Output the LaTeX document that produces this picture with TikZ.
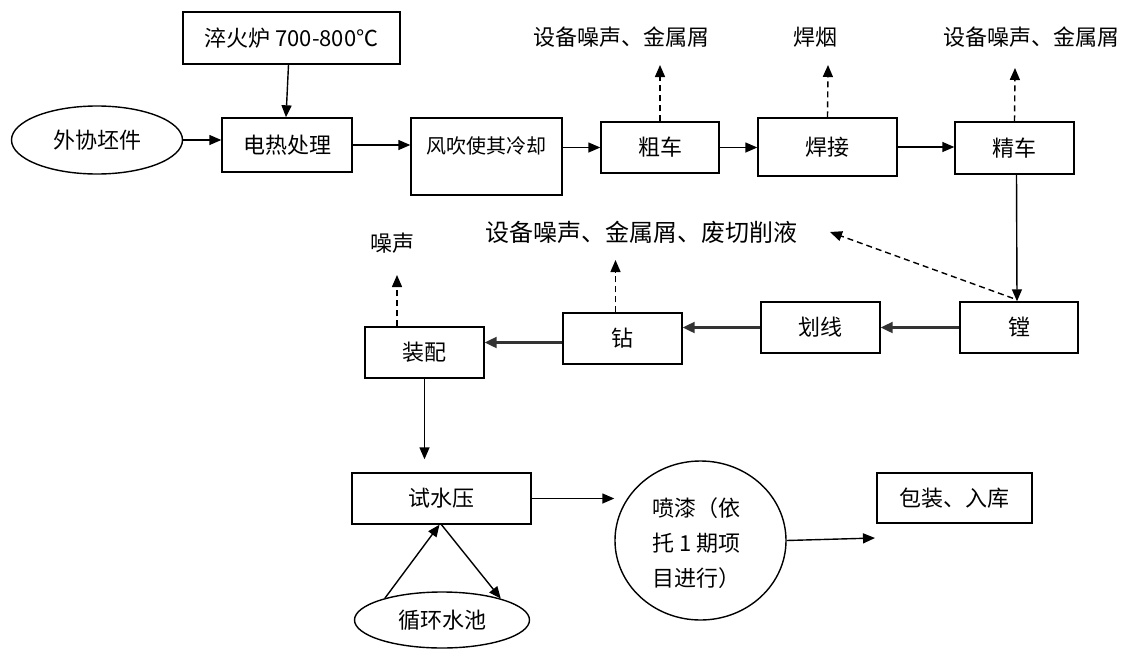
\documentclass[tikz,border=0pt]{standalone}
\usepackage{fontspec}
\newfontfamily\cjk{Noto Sans CJK SC}
\usetikzlibrary{arrows.meta,shapes.geometric,calc}
\begin{document}
\begin{tikzpicture}[x=1pt,y=-1pt,
  every node/.style={font=\cjk\fontsize{22}{26}\selectfont, inner sep=0pt},
  box/.style={draw, line width=1.4pt, rectangle},
  oval/.style={draw, line width=1.4pt, ellipse},
  arr/.style={line width=1.4pt, -{Triangle[length=12pt,width=10pt]}},
  arrb/.style={line width=2.2pt, black!80, -{Triangle[length=12pt,width=11pt]}},
  darr/.style={arr, dash pattern=on 6pt off 4pt}]
\useasboundingbox (0,0) rectangle (1135,648);

% boxes and ovals
\node[box, minimum width=217pt, minimum height=52pt] (cf) at (291.5,38) {淬火炉 700-800℃};
\node[oval, minimum width=171pt, minimum height=68pt] (wx) at (97,140) {外协坯件};
\node[box, minimum width=130pt, minimum height=54pt] (dr) at (287,145) {电热处理};
\node[box, minimum width=151pt, minimum height=77pt] (fc) at (486.5,156.5) {};
\node (fct) at (486,146) {\fontsize{20}{24}\selectfont 风吹使其冷却};
\node[box, minimum width=118pt, minimum height=51pt] (cc) at (660,147.5) {粗车};
\node[box, minimum width=139pt, minimum height=58pt] (hj) at (827.5,147) {焊接};
\node[box, minimum width=119pt, minimum height=52pt] (jc) at (1014.5,148) {精车};
\node[box, minimum width=118pt, minimum height=51pt] (tang) at (1019,327.5) {镗};
\node[box, minimum width=119pt, minimum height=51pt] (hx) at (820.5,327.5) {划线};
\node[box, minimum width=119pt, minimum height=51pt] (zuan) at (622.5,338.5) {钻};
\node[box, minimum width=119pt, minimum height=51pt] (zp) at (424.5,352.5) {装配};
\node[box, minimum width=179pt, minimum height=51pt] (sy) at (441.5,498.5) {试水压};
\node[oval, minimum width=171pt, minimum height=159pt] (pq) at (700.5,540.5) {};
\node[anchor=west, align=left, font=\cjk\fontsize{22}{35}\selectfont] (pqt) at (652,543) {喷漆（依\\托 1 期项\\目进行）};
\node[box, minimum width=155pt, minimum height=50pt] (bz) at (954.5,498) {包装、入库};
\node[oval, minimum width=175pt, minimum height=56pt] (xh) at (442,620) {循环水池};

% labels
\node (l1) at (621,37) {设备噪声、金属屑};
\node (l2) at (815,37) {焊烟};
\node (l3) at (1031,37) {设备噪声、金属屑};
\node (l4) at (641,232) {\fontsize{24}{28}\selectfont 设备噪声、金属屑、废切削液};
\node (l5) at (392,243) {噪声};

% free ends
\coordinate (t1) at (660,65);
\coordinate (t2) at (828,65);
\coordinate (t3) at (1015,68);
\coordinate (t4) at (615.5,260);
\coordinate (t5) at (397,275);
\coordinate (t6) at (830,232);
\coordinate (pe) at (875,538);

% solid connectors
\draw[arr] ($(cf.south)+(-3,0)$) -- ($(dr.north)+(-1,0)$);
\draw[arr] (wx.east) -- (dr.west |- wx.east);
\draw[arr] (dr.east) -- (fc.west |- dr.east);
\draw[arr] (fc.east |- cc.west) -- (cc.west);
\draw[arr] (cc.east) -- (hj.west |- cc.east);
\draw[arr] (hj.east) -- (jc.west |- hj.east);
\draw[arr] ($(jc.south)+(2,0)$) -- ($(tang.north)+(-2,0)$);
\draw[arrb] (tang.west) -- (hx.east);
\draw[arrb] (hx.west) -- (zuan.east |- hx.west);
\draw[arrb] ($(zuan.west)+(0,4)$) -- ($(zp.east |- zuan.west)+(0,4)$);
\draw[arr] (zp.south) -- ($(zp.south |- sy.north)+(0,-13)$);
\draw[arr] (sy.east) -- (pq.west |- sy.east);
\draw[arr] (pq.east) -- (pe);
\draw[arr] (xh.159) -- ($(sy.south)+(-2,0)$);
\draw[arr] (sy.south) -- (xh.20);

% dashed connectors
\draw[darr] (cc.north) -- (t1);
\draw[darr] (hj.north) -- (t2);
\draw[darr] (jc.north) -- (t3);
\draw[darr] (zuan.north -| t4) -- (t4);
\draw[darr] (zp.north -| t5) -- (t5);
\draw[darr] ($(tang.north)+(-6,-3)$) -- (t6);
\end{tikzpicture}
\end{document}
